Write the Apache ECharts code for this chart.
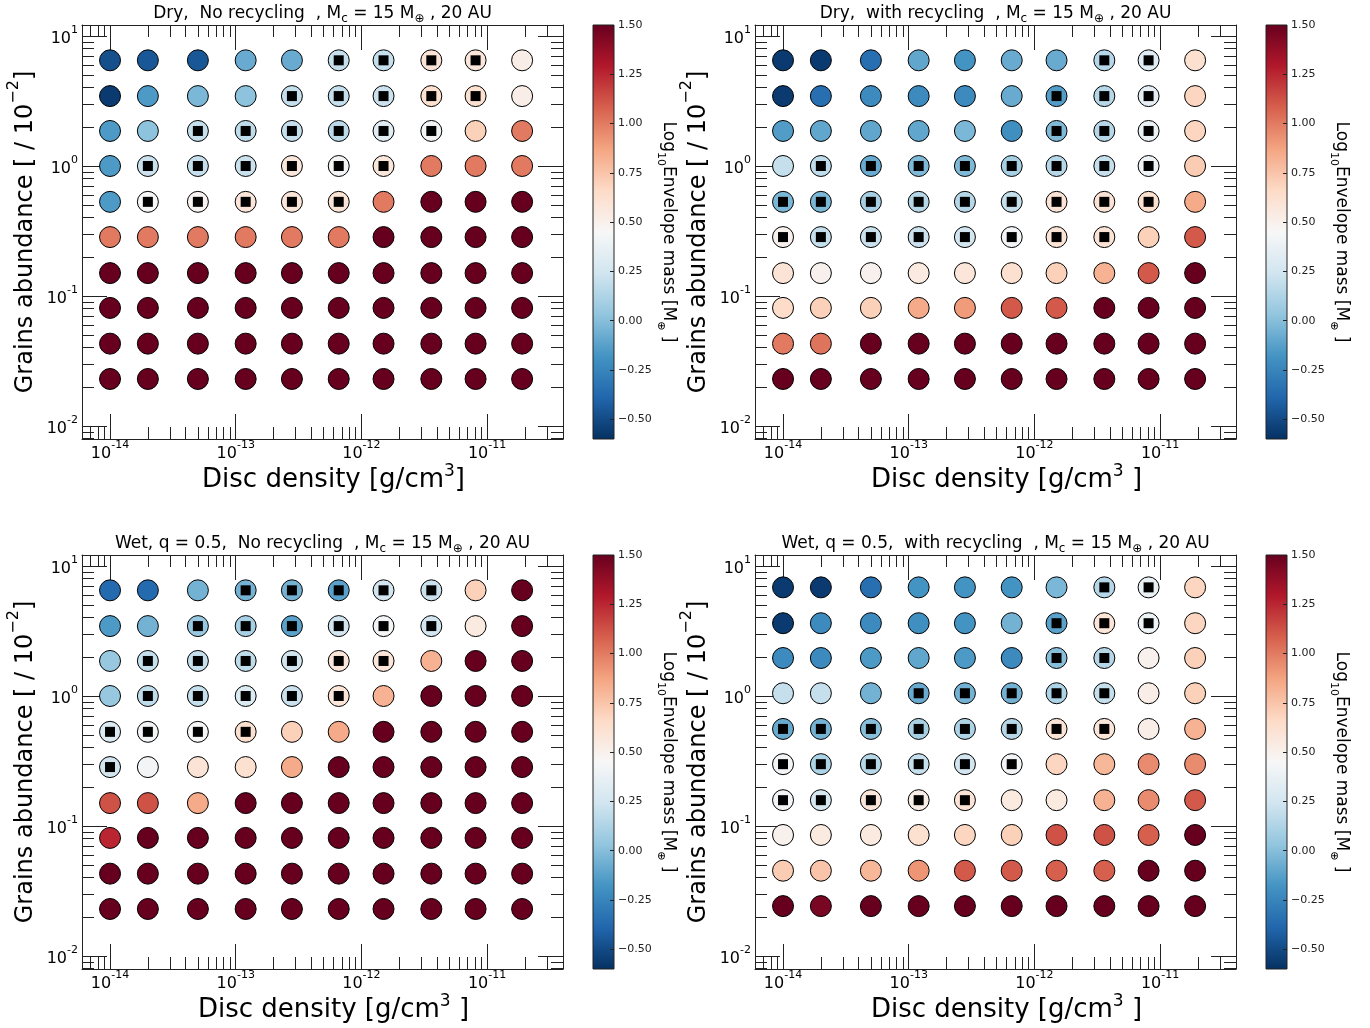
<!DOCTYPE html>
<html><head><meta charset="utf-8">
<script src="https://cdn.jsdelivr.net/npm/echarts@6/dist/echarts.min.js"></script>
<style>html,body{margin:0;padding:0;background:#fff}#c{width:1370px;height:1028px}</style>
</head><body><div id="c"></div>
<script>
// ---------------- DATA ----------------
const densities = [1e-14, 2e-14, 5e-14, 1.2e-13, 2.8e-13, 6.6e-13, 1.5e-12, 3.6e-12, 8.1e-12, 1.9e-11];
const abundances = [6.5, 3.45, 1.86, 1.0, 0.53, 0.284, 0.15, 0.081, 0.043, 0.023];
const abundancesWetRecycling = [6.85, 3.63, 1.96, 1.05, 0.558, 0.299, 0.158, 0.0853, 0.0453, 0.0242];
const xMajorTicks = [1e-14, 1e-13, 1e-12, 1e-11];
const yMajorTicks = [0.01, 0.1, 1, 10];
const colorbarTicks = [-0.5, -0.25, 0, 0.25, 0.5, 0.75, 1, 1.25, 1.5];

const panelTitles = [
  'Dry,  No recycling  , M{s|c} = 15 M{s|⊕} , 20 AU',
  'Dry,  with recycling  , M{s|c} = 15 M{s|⊕} , 20 AU',
  'Wet, q = 0.5,  No recycling  , M{s|c} = 15 M{s|⊕} , 20 AU',
  'Wet, q = 0.5,  with recycling  , M{s|c} = 15 M{s|⊕} , 20 AU'
];
const xAxisTitles = [
  '{t|Disc density [g/cm}{p|3}{t|]}',
  '{t|Disc density [g/cm}{p|3}{t| ]}',
  '{t|Disc density [g/cm}{p|3}{t| ]}',
  '{t|Disc density [g/cm}{p|3}{t| ]}'
];
const yAxisTitle = '{t|Grains abundance [ / 10}{p|−2}{t|]}';
const colorbarTitle = '{t|Log}{s|10}{t|Envelope mass [M}{s|⊕}{t| ]}';

// log10 envelope mass; rows = abundances (top to bottom), columns = densities
const dryNoRecycling = [
  [-0.48, -0.45, -0.45, -0.08, -0.08, 0.20, 0.20, 0.60, 0.58, 0.52],
  [-0.56, -0.15, -0.03, 0.02, 0.20, 0.20, 0.22, 0.62, 0.62, 0.52],
  [-0.15, 0.02, 0.20, 0.18, 0.20, 0.17, 0.33, 0.42, 0.70, 1.00],
  [-0.15, 0.22, 0.20, 0.22, 0.57, 0.42, 0.57, 1.00, 1.00, 1.00],
  [-0.15, 0.45, 0.48, 0.58, 0.58, 0.60, 1.00, 1.50, 1.50, 1.50],
  [1.00, 1.00, 1.00, 1.00, 1.00, 1.00, 1.50, 1.50, 1.50, 1.50],
  [1.50, 1.50, 1.50, 1.50, 1.50, 1.50, 1.50, 1.50, 1.50, 1.50],
  [1.50, 1.50, 1.50, 1.50, 1.50, 1.50, 1.50, 1.50, 1.50, 1.50],
  [1.50, 1.50, 1.50, 1.50, 1.50, 1.50, 1.50, 1.50, 1.50, 1.50],
  [1.50, 1.50, 1.50, 1.50, 1.50, 1.50, 1.50, 1.50, 1.50, 1.50]
];
const dryNoRecyclingFlags = [
  [0,0,0,0,0,1,1,1,1,0],
  [0,0,0,0,1,1,1,1,1,0],
  [0,0,1,1,1,1,1,1,0,0],
  [0,1,1,1,1,1,1,0,0,0],
  [0,1,1,1,1,1,0,0,0,0],
  [0,0,0,0,0,0,0,0,0,0],
  [0,0,0,0,0,0,0,0,0,0],
  [0,0,0,0,0,0,0,0,0,0],
  [0,0,0,0,0,0,0,0,0,0],
  [0,0,0,0,0,0,0,0,0,0]
];
const dryRecycling = [
  [-0.56, -0.56, -0.35, -0.10, -0.18, -0.08, -0.08, 0.15, 0.32, 0.62],
  [-0.56, -0.35, -0.22, -0.22, -0.22, -0.08, -0.14, 0.15, 0.35, 0.68],
  [-0.14, -0.10, -0.10, -0.10, -0.03, -0.20, -0.02, 0.15, 0.38, 0.68],
  [0.20, 0.18, -0.08, -0.02, -0.02, 0.10, 0.15, 0.20, 0.40, 0.72],
  [-0.03, -0.03, 0.10, 0.15, 0.15, 0.20, 0.60, 0.60, 0.62, 0.85],
  [0.50, 0.20, 0.22, 0.22, 0.25, 0.42, 0.60, 0.60, 0.70, 1.10],
  [0.60, 0.50, 0.50, 0.55, 0.58, 0.62, 0.70, 0.82, 1.10, 1.50],
  [0.65, 0.70, 0.70, 0.85, 0.90, 1.10, 1.10, 1.50, 1.50, 1.50],
  [1.00, 1.02, 1.50, 1.50, 1.50, 1.50, 1.50, 1.50, 1.50, 1.50],
  [1.50, 1.50, 1.50, 1.50, 1.50, 1.50, 1.50, 1.50, 1.50, 1.50]
];
const dryRecyclingFlags = [
  [0,0,0,0,0,0,0,1,1,0],
  [0,0,0,0,0,0,1,1,1,0],
  [0,0,0,0,0,0,1,1,1,0],
  [0,1,1,1,1,1,1,1,1,0],
  [1,1,1,1,1,1,1,1,1,0],
  [1,1,1,1,1,1,1,1,0,0],
  [0,0,0,0,0,0,0,0,0,0],
  [0,0,0,0,0,0,0,0,0,0],
  [0,0,0,0,0,0,0,0,0,0],
  [0,0,0,0,0,0,0,0,0,0]
];
const wetNoRecycling = [
  [-0.37, -0.37, -0.05, -0.05, -0.05, -0.12, 0.25, 0.22, 0.70, 1.50],
  [-0.15, -0.05, 0.05, 0.10, -0.12, 0.25, 0.42, 0.25, 0.55, 1.50],
  [0.05, 0.20, 0.20, 0.18, 0.25, 0.58, 0.58, 0.82, 1.50, 1.50],
  [0.05, 0.18, 0.20, 0.30, 0.22, 0.58, 0.82, 1.50, 1.50, 1.50],
  [0.30, 0.42, 0.45, 0.62, 0.70, 0.85, 1.50, 1.50, 1.50, 1.50],
  [0.25, 0.42, 0.60, 0.62, 0.85, 1.50, 1.50, 1.50, 1.50, 1.50],
  [1.12, 1.12, 0.85, 1.50, 1.50, 1.50, 1.50, 1.50, 1.50, 1.50],
  [1.25, 1.50, 1.50, 1.50, 1.50, 1.50, 1.50, 1.50, 1.50, 1.50],
  [1.50, 1.50, 1.50, 1.50, 1.50, 1.50, 1.50, 1.50, 1.50, 1.50],
  [1.50, 1.50, 1.50, 1.50, 1.50, 1.50, 1.50, 1.50, 1.50, 1.50]
];
const wetNoRecyclingFlags = [
  [0,0,0,1,1,1,1,1,0,0],
  [0,0,1,1,1,1,1,1,0,0],
  [0,1,1,1,1,1,1,0,0,0],
  [0,1,1,1,1,1,0,0,0,0],
  [1,1,1,1,0,0,0,0,0,0],
  [1,0,0,0,0,0,0,0,0,0],
  [0,0,0,0,0,0,0,0,0,0],
  [0,0,0,0,0,0,0,0,0,0],
  [0,0,0,0,0,0,0,0,0,0],
  [0,0,0,0,0,0,0,0,0,0]
];
const wetRecycling = [
  [-0.56, -0.56, -0.35, -0.18, -0.18, -0.18, -0.03, 0.15, 0.38, 0.68],
  [-0.56, -0.22, -0.22, -0.20, -0.18, -0.05, -0.12, 0.58, 0.40, 0.68],
  [-0.22, -0.22, -0.15, -0.10, -0.15, -0.22, 0.00, 0.15, 0.50, 0.70],
  [0.20, 0.20, -0.05, -0.08, -0.05, -0.05, 0.12, 0.20, 0.52, 0.70],
  [-0.08, -0.05, 0.00, 0.10, 0.12, 0.15, 0.60, 0.58, 0.52, 0.82],
  [0.42, 0.12, 0.15, 0.20, 0.25, 0.42, 0.68, 0.80, 0.95, 0.95],
  [0.42, 0.28, 0.58, 0.52, 0.60, 0.55, 0.55, 0.82, 0.95, 1.10],
  [0.50, 0.55, 0.55, 0.62, 0.68, 0.70, 1.12, 1.12, 1.08, 1.50],
  [0.72, 0.75, 0.80, 0.92, 1.10, 1.10, 1.08, 1.08, 1.50, 1.50],
  [1.50, 1.45, 1.50, 1.50, 1.50, 1.50, 1.50, 1.50, 1.50, 1.50]
];
const wetRecyclingFlags = [
  [0,0,0,0,0,0,0,1,1,0],
  [0,0,0,0,0,0,1,1,1,0],
  [0,0,0,0,0,0,1,1,0,0],
  [0,0,0,1,1,1,1,1,0,0],
  [1,1,1,1,1,1,1,1,0,0],
  [1,1,1,1,1,1,0,0,0,0],
  [1,1,1,1,1,0,0,0,0,0],
  [0,0,0,0,0,0,0,0,0,0],
  [0,0,0,0,0,0,0,0,0,0],
  [0,0,0,0,0,0,0,0,0,0]
];

// ---------------- STYLE / LAYOUT ----------------
const panelValues = [dryNoRecycling, dryRecycling, wetNoRecycling, wetRecycling];
const panelFlags = [dryNoRecyclingFlags, dryRecyclingFlags, wetNoRecyclingFlags, wetRecyclingFlags];
const panelAbundances = [abundances, abundances, abundances, abundancesWetRecycling];
const RdBu_r = ['#053061','#2166ac','#4393c3','#92c5de','#d1e5f0','#f7f7f7','#fddbc7','#f4a582','#d6604d','#b2182b','#67001f'];
const VMIN = -0.6, VMAX = 1.5;
const FONT = 'DejaVu Sans';
const plotPos = [[82, 25], [755, 25], [82, 555], [755, 555]];
const PW = 481, PH = 414;
const CB_DX = 511, CB_W = 21;
const xMin = Math.pow(10, -14.223), xMax = Math.pow(10, -10.396);
const yMin = Math.pow(10, -2.1), yMax = Math.pow(10, 1.0846);

function minorTicks(e0, e1, lo, hi) {
  const t = [];
  for (let e = e0; e <= e1; e++) for (let m = 2; m <= 9; m++) {
    const v = m * Math.pow(10, e);
    if (v > lo * 1.0001 && v < hi * 0.9999) t.push(v);
  }
  return t;
}
const xMinor = minorTicks(-15, -11, xMin, xMax);
const yMinor = minorTicks(-3, 1, yMin, yMax);

const supRich = {
  b: { fontSize: 16, fontFamily: FONT, color: '#000', lineHeight: 22, verticalAlign: 'bottom' },
  s: { fontSize: 11, fontFamily: FONT, color: '#000', lineHeight: 12, verticalAlign: 'top' }
};
function powLabel(v) { return '{b|10}{s|' + Math.round(Math.log10(v)) + '}'; }

const tickStyle = { color: '#222', width: 1 };
const grids = [], xAxes = [], yAxes = [], series = [], titles = [];

panelValues.forEach((vals, p) => {
  const [L, T] = plotPos[p];
  const ab = panelAbundances[p];
  grids.push({ left: L, top: T, width: PW, height: PH, show: false, containLabel: false });
  const base = { type: 'log', logBase: 10, gridIndex: p, splitLine: { show: false }, axisLabel: { show: false } };
  // x axes
  xAxes.push(Object.assign({}, base, {
    position: 'bottom', min: xMin, max: xMax,
    axisLine: { show: true, onZero: false, lineStyle: { color: '#222', width: 1 } },
    axisTick: { show: true, inside: true, length: 25, customValues: xMajorTicks, lineStyle: tickStyle },
    axisLabel: { show: true, customValues: xMajorTicks, margin: 1, formatter: powLabel, rich: supRich },
    name: xAxisTitles[p], nameLocation: 'middle', nameGap: 15,
    nameTextStyle: { fontSize: 26, fontFamily: FONT, color: '#000', padding: [0, 0, 0, 22],
      rich: {
        t: { fontSize: 26, fontFamily: FONT, color: '#000', lineHeight: 30, verticalAlign: 'bottom' },
        p: { fontSize: 17, fontFamily: FONT, color: '#000', lineHeight: 16, verticalAlign: 'top' }
      } }
  }));
  xAxes.push(Object.assign({}, base, {
    position: 'bottom', min: xMin, max: xMax, axisLine: { show: false, onZero: false },
    axisTick: { show: true, inside: true, length: 12, customValues: xMinor, lineStyle: tickStyle }
  }));
  xAxes.push(Object.assign({}, base, {
    position: 'top', min: xMin, max: xMax,
    axisLine: { show: true, onZero: false, lineStyle: { color: '#222', width: 1 } },
    axisTick: { show: true, inside: true, length: 25, customValues: xMajorTicks, lineStyle: tickStyle }
  }));
  xAxes.push(Object.assign({}, base, {
    position: 'top', min: xMin, max: xMax, axisLine: { show: false, onZero: false },
    axisTick: { show: true, inside: true, length: 12, customValues: xMinor, lineStyle: tickStyle }
  }));
  // y axes
  yAxes.push(Object.assign({}, base, {
    position: 'left', min: yMin, max: yMax,
    axisLine: { show: true, onZero: false, lineStyle: { color: '#222', width: 1 } },
    axisTick: { show: true, inside: true, length: 25, customValues: yMajorTicks, lineStyle: tickStyle },
    axisLabel: { show: true, customValues: yMajorTicks, margin: 4, formatter: powLabel, rich: supRich },
    name: yAxisTitle, nameLocation: 'middle', nameRotate: 90, nameGap: 44,
    nameTextStyle: { fontSize: 24, fontFamily: FONT, color: '#000',
      rich: {
        t: { fontSize: 24, fontFamily: FONT, color: '#000', lineHeight: 32, verticalAlign: 'bottom' },
        p: { fontSize: 16, fontFamily: FONT, color: '#000', lineHeight: 18, verticalAlign: 'top' }
      } }
  }));
  yAxes.push(Object.assign({}, base, {
    position: 'left', min: yMin, max: yMax, axisLine: { show: false, onZero: false },
    axisTick: { show: true, inside: true, length: 12, customValues: yMinor, lineStyle: tickStyle }
  }));
  yAxes.push(Object.assign({}, base, {
    position: 'right', min: yMin, max: yMax,
    axisLine: { show: true, onZero: false, lineStyle: { color: '#222', width: 1 } },
    axisTick: { show: true, inside: true, length: 25, customValues: yMajorTicks, lineStyle: tickStyle }
  }));
  yAxes.push(Object.assign({}, base, {
    position: 'right', min: yMin, max: yMax, axisLine: { show: false, onZero: false },
    axisTick: { show: true, inside: true, length: 12, customValues: yMinor, lineStyle: tickStyle }
  }));

  // data
  const circles = [], squares = [];
  vals.forEach((row, r) => row.forEach((v, c) => {
    circles.push([densities[c], ab[r], v]);
    if (panelFlags[p][r][c]) squares.push([densities[c], ab[r]]);
  }));
  series.push({
    type: 'scatter', xAxisIndex: 4 * p, yAxisIndex: 4 * p, data: circles,
    symbol: 'circle', symbolSize: 21, z: 3,
    itemStyle: { borderColor: '#000', borderWidth: 1, opacity: 1 }
  });
  series.push({
    type: 'scatter', xAxisIndex: 4 * p, yAxisIndex: 4 * p, data: squares,
    symbol: 'rect', symbolSize: 10, z: 4,
    itemStyle: { color: '#000', opacity: 1 }
  });

  titles.push({
    text: panelTitles[p], left: L + PW / 2, top: T - 22, textAlign: 'center', padding: 0,
    textStyle: { fontSize: 17, fontWeight: 'normal', fontFamily: FONT, color: '#000', lineHeight: 22,
      rich: { s: { fontSize: 12, fontFamily: FONT, color: '#000', lineHeight: 12, verticalAlign: 'bottom' } } }
  });
});

// colorbars
const gradStops = RdBu_r.map((c, i) => ({ offset: i / (RdBu_r.length - 1), color: c }));
plotPos.forEach(([L, T], p) => {
  const gi = 4 + p;
  grids.push({
    left: L + CB_DX, top: T, width: CB_W, height: PH, show: true,
    backgroundColor: { type: 'linear', x: 0, y: 1, x2: 0, y2: 0, colorStops: gradStops },
    borderColor: '#222', borderWidth: 1
  });
  xAxes.push({ type: 'value', gridIndex: gi, show: false, min: 0, max: 1 });
  yAxes.push({
    type: 'value', gridIndex: gi, position: 'right', min: VMIN, max: VMAX,
    splitLine: { show: false },
    axisLine: { show: false, onZero: false },
    axisTick: { show: true, inside: true, length: 4, customValues: colorbarTicks, lineStyle: { color: '#222', width: 1 } },
    axisLabel: { show: true, customValues: colorbarTicks, margin: 4, fontSize: 11, fontFamily: FONT, color: '#222',
      formatter: v => (v < 0 ? '−' : '') + Math.abs(v).toFixed(2) },
    name: colorbarTitle, nameLocation: 'middle', nameRotate: -90, nameGap: 35,
    nameTextStyle: { fontSize: 17, fontFamily: FONT, color: '#000',
      rich: {
        t: { fontSize: 17, fontFamily: FONT, color: '#000', lineHeight: 21, verticalAlign: 'top' },
        s: { fontSize: 11, fontFamily: FONT, color: '#000', lineHeight: 11, verticalAlign: 'bottom' }
      } }
  });
});

const chart = echarts.init(document.getElementById('c'), null, { renderer: 'canvas' });
chart.setOption({
  animation: false,
  backgroundColor: '#fff',
  title: titles,
  grid: grids,
  xAxis: xAxes,
  yAxis: yAxes,
  visualMap: {
    type: 'continuous', show: false, min: VMIN, max: VMAX, dimension: 2,
    seriesIndex: [0, 2, 4, 6],
    inRange: { color: RdBu_r }
  },
  series: series
});
</script></body></html>
